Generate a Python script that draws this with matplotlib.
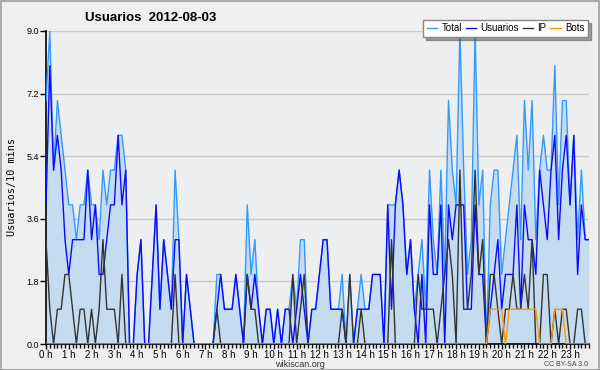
import matplotlib
matplotlib.use("Agg")
import matplotlib.pyplot as plt
from matplotlib.patches import Rectangle
import numpy as np

hours = [f"{h} h" for h in range(24)]
steps_per_hour = 6

total = [7,9,5,7,6,5,4,4,3,4,
         4,5,4,4,3,5,4,5,5,6,
         6,5,0,0,2,3,0,0,2,4,
         1,3,2,1,5,3,0,2,1,0,
         0,0,0,0,0,2,2,1,1,1,
         2,1,0,4,2,3,1,0,1,1,
         0,1,0,1,1,2,1,3,3,0,
         1,1,2,3,3,1,1,1,2,0,
         2,0,1,2,1,1,2,2,2,0,
         4,4,4,5,4,2,3,1,2,3,
         1,5,3,2,5,2,7,5,4,9,
         5,2,3,9,4,5,0,4,5,5,
         2,3,4,5,6,3,7,5,7,3,
         5,6,5,5,8,4,7,7,4,6,
         3,5,3,3]
usuarios = [4,8,5,6,5,3,2,3,3,3,
            3,5,3,4,2,2,3,4,4,6,
            4,5,0,0,2,3,0,0,2,4,
            1,3,2,1,3,3,0,2,1,0,
            0,0,0,0,0,1,2,1,1,1,
            2,1,0,2,1,2,1,0,1,1,
            0,1,0,1,1,0,1,2,1,0,
            1,1,2,3,3,1,1,1,1,0,
            0,0,1,1,1,1,2,2,2,0,
            4,1,4,5,4,2,3,1,0,2,
            0,4,2,2,4,0,4,3,4,4,
            4,1,1,4,2,2,0,1,2,3,
            1,2,2,2,4,1,4,3,3,2,
            5,4,3,5,6,3,5,6,4,6,
            2,4,3,3]
ip = [3,1,0,1,1,2,2,1,0,1,
      1,0,1,0,1,3,1,1,1,0,
      2,0,0,0,0,0,0,0,0,0,
      0,0,0,0,2,0,0,0,0,0,
      0,0,0,0,0,1,0,0,0,0,
      0,0,0,2,1,1,0,0,0,0,
      0,0,0,0,0,2,0,1,2,0,
      0,0,0,0,0,0,0,0,1,0,
      2,0,0,1,0,0,0,0,0,0,
      0,3,0,0,0,0,0,0,2,1,
      1,1,1,0,1,2,3,2,0,5,
      1,1,2,5,2,3,0,2,2,1,
      0,1,1,2,1,1,2,1,3,0,
      0,2,2,0,1,0,1,1,0,0,
      1,1,0,0]
bots = [0,0,0,0,0,0,0,0,0,0,
        0,0,0,0,0,0,0,0,0,0,
        0,0,0,0,0,0,0,0,0,0,
        0,0,0,0,0,0,0,0,0,0,
        0,0,0,0,0,0,0,0,0,0,
        0,0,0,0,0,0,0,0,0,0,
        0,0,0,0,0,0,0,0,0,0,
        0,0,0,0,0,0,0,0,0,0,
        0,0,0,0,0,0,0,0,0,0,
        0,0,0,0,0,0,0,0,0,0,
        0,0,0,0,0,0,0,0,0,0,
        0,0,0,0,0,0,0,1,1,1,
        1,0,1,1,1,1,1,1,1,1,
        0,0,0,0,1,1,1,0,0,0,
        0,0,0,0]
yticks = [0.0, 1.8, 3.6, 5.4, 7.2, 9.0]

x = np.arange(len(total))
SANS = "Liberation Sans"

fig = plt.figure(figsize=(6.0, 3.7), dpi=100)
fig.patch.set_facecolor("#efefef")
ax = fig.add_axes([46/600, 26/370, 543/600, 313/370])
ax.set_facecolor("#edeef0")

ax.fill_between(x, 0, total, color="#c5dcf0", lw=0, zorder=1)
ax.plot(x, total, color="#3399ff", lw=1.0, zorder=3, label="Total")
ax.plot(x, usuarios, color="#0a0aff", lw=1.0, zorder=4, label="Usuarios")
ax.plot(x, ip, color="#333333", lw=1.0, zorder=5, label="IP")
ax.plot(x, bots, color="#ff9900", lw=1.0, zorder=6, label="Bots")

ax.set_xlim(0, len(total) - 1)
ax.set_ylim(0, 9.0)
ax.set_yticks(yticks)
ax.set_yticklabels([f"{v:.1f}" for v in yticks], fontsize=6.5, family=SANS)
ax.yaxis.grid(True, color="#c8c8c8", lw=1.0, zorder=0)
ax.set_axisbelow(True)

ax.set_xticks(np.arange(0, len(total), steps_per_hour))
ax.set_xticklabels(hours, fontsize=7, family=SANS)
ax.set_xticks(np.arange(0, len(total), 1), minor=True)
ax.tick_params(axis="x", which="major", length=3.5, width=1, pad=0.5)
ax.tick_params(axis="x", which="minor", length=3, width=1)
ax.tick_params(axis="y", length=4, width=1, pad=1)

for s in ["top", "right"]:
    ax.spines[s].set_visible(False)
ax.spines["left"].set_linewidth(1.2)
ax.spines["bottom"].set_linewidth(1.2)

ax.set_ylabel("Usuarios/10 mins", family="DejaVu Sans Mono", fontsize=7.3, labelpad=7)

fig.text(85/600, 1 - 18/370, "Usuarios  2012-08-03", fontsize=9.5, fontweight="bold",
         family=SANS, ha="left", va="center")
fig.text(0.5, 1 - 364.5/370, "wikiscan.org", fontsize=6.5, family=SANS,
         ha="center", va="center", color="#333333")
fig.text(588/600, 1 - 365/370, "CC BY-SA 3.0", fontsize=5, family=SANS,
         ha="right", va="center", color="#444444")

leg = fig.legend(loc="upper right", bbox_to_anchor=(588/600, 1 - 20/370), ncol=4,
                 prop={"family": SANS, "size": 7},
                 handlelength=1.1, handletextpad=0.45, columnspacing=0.35,
                 borderpad=0.35, frameon=True, fancybox=False, shadow=True,
                 borderaxespad=0)
leg.get_frame().set_edgecolor("#888888")
leg.get_frame().set_facecolor("white")
leg.get_frame().set_linewidth(1.0)

fig.patches.append(Rectangle((0.001, 0.001), 0.997, 0.997, transform=fig.transFigure,
                             fill=False, edgecolor="#aaaaaa", lw=1.5))

fig.savefig("out.png", dpi=100, facecolor=fig.get_facecolor())
